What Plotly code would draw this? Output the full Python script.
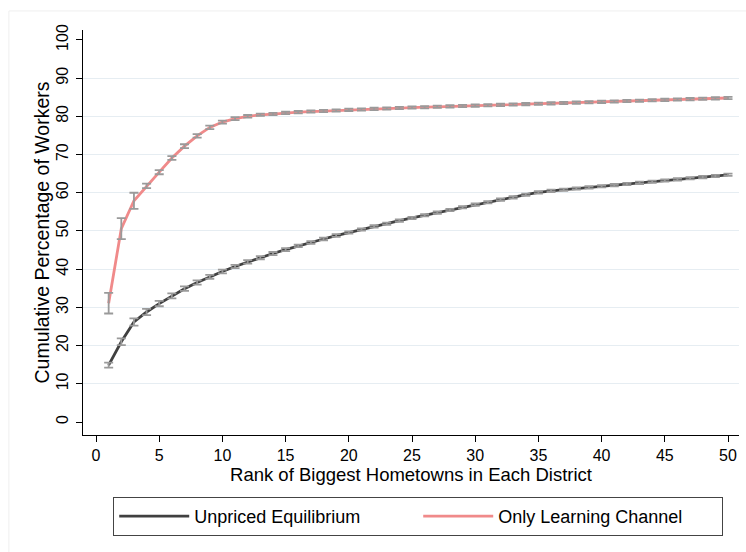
import plotly.graph_objects as go

rank = list(range(1, 51))

unpriced = [14.9, 21.0, 26.2, 28.8, 31.0, 33.0, 34.9, 36.5, 38.0, 39.4,
            40.7, 41.9, 43.0, 44.1, 45.1, 46.1, 47.0, 47.9, 48.8, 49.6,
            50.4, 51.2, 51.9, 52.7, 53.4, 54.1, 54.8, 55.5, 56.2, 56.9,
            57.5, 58.2, 58.8, 59.5, 60.1, 60.5, 60.8, 61.1, 61.4, 61.7,
            62.0, 62.3, 62.6, 62.9, 63.2, 63.5, 63.8, 64.1, 64.4, 64.7]
unpriced_err = [0.65, 0.9, 0.95, 0.8, 0.7, 0.65, 0.6, 0.55, 0.5, 0.5,
                0.45, 0.45, 0.4, 0.4, 0.4, 0.35, 0.35, 0.35, 0.35, 0.3,
                0.3, 0.3, 0.3, 0.3, 0.3, 0.3, 0.3, 0.3, 0.3, 0.3,
                0.3, 0.3, 0.3, 0.3, 0.3, 0.3, 0.3, 0.3, 0.3, 0.3,
                0.3, 0.3, 0.3, 0.3, 0.3, 0.3, 0.3, 0.3, 0.3, 0.3]

learning = [31.1, 50.6, 57.9, 61.8, 65.4, 69.1, 72.2, 74.9, 77.1, 78.5,
            79.4, 80.0, 80.4, 80.6, 80.9, 81.1, 81.25, 81.4, 81.55, 81.7,
            81.8, 81.95, 82.05, 82.2, 82.3, 82.4, 82.5, 82.6, 82.7, 82.8,
            82.9, 83.0, 83.1, 83.2, 83.3, 83.4, 83.5, 83.6, 83.7, 83.8,
            83.9, 84.0, 84.1, 84.2, 84.3, 84.4, 84.5, 84.6, 84.7, 84.8]
learning_err = [2.7, 2.75, 2.1, 0.6, 0.55, 0.5, 0.5, 0.45, 0.45, 0.4,
                0.4, 0.35, 0.3, 0.3, 0.3, 0.3, 0.3, 0.3, 0.3, 0.3,
                0.3, 0.3, 0.3, 0.3, 0.3, 0.3, 0.3, 0.3, 0.3, 0.3,
                0.3, 0.3, 0.3, 0.3, 0.3, 0.3, 0.3, 0.3, 0.3, 0.3,
                0.3, 0.3, 0.3, 0.3, 0.3, 0.3, 0.3, 0.3, 0.3, 0.3]

x_ticks = [0, 5, 10, 15, 20, 25, 30, 35, 40, 45, 50]
y_ticks = [0, 10, 20, 30, 40, 50, 60, 70, 80, 90, 100]
grid_ticks = [10, 20, 30, 40, 50, 60, 70, 80, 90]

FONT = "Liberation Sans, Arial, Helvetica, sans-serif"
GRAY_LINE = "#404040"
RED_LINE = "#F08A8A"
ERR_COLOR = "#9A9A9A"
X_RANGE = [-1.03, 50.87]
Y_RANGE = [-3.4, 102.6]

fig = go.Figure()

fig.add_trace(go.Scatter(x=rank, y=unpriced, mode="lines", name="Unpriced Equilibrium",
                         line=dict(color=GRAY_LINE, width=2.8), yaxis="y"))
fig.add_trace(go.Scatter(x=rank, y=learning, mode="lines", name="Only Learning Channel",
                         line=dict(color=RED_LINE, width=2.8), yaxis="y"))

for vals, errs in [(unpriced, unpriced_err), (learning, learning_err)]:
    fig.add_trace(go.Scatter(
        x=rank, y=vals, mode="markers", showlegend=False, hoverinfo="skip",
        marker=dict(size=1, opacity=0),
        error_y=dict(type="data", array=errs, visible=True, color=ERR_COLOR,
                     thickness=1.8, width=4.5),
        yaxis="y2"))

fig.update_layout(
    width=746, height=552,
    margin=dict(l=83, r=7, t=30, b=117, autoexpand=False),
    paper_bgcolor="white", plot_bgcolor="white",
    font=dict(family=FONT, color="black", size=15),
    xaxis=dict(range=X_RANGE, tickvals=x_ticks, ticks="outside", ticklen=6,
               tickcolor="black", showline=True, linecolor="black", linewidth=1,
               showgrid=False, zeroline=False, tickfont=dict(size=16),
               ticklabelstandoff=0,
               title=dict(text="Rank of Biggest Hometowns in Each District",
                          font=dict(size=18.5), standoff=3)),
    yaxis=dict(range=Y_RANGE, tickvals=grid_ticks, showticklabels=False, ticks="",
               showgrid=True, gridcolor="#E6EDF2", gridwidth=1,
               showline=True, linecolor="black", linewidth=1, zeroline=False,
               title=dict(text="Cumulative Percentage of Workers",
                          font=dict(size=19.5), standoff=27)),
    yaxis2=dict(range=Y_RANGE, overlaying="y", side="left", tickvals=y_ticks,
                ticks="outside", ticklen=6, tickcolor="black", tickangle=-90,
                ticklabelstandoff=2,
                showgrid=False, showline=False, zeroline=False, tickfont=dict(size=16)),
    legend=dict(orientation="h", x=0.511, xanchor="center", y=-0.153, yanchor="top",
                bordercolor="#444444", borderwidth=1, font=dict(size=18),
                itemwidth=70, entrywidth=219, entrywidthmode="pixels", bgcolor="white"),
    shapes=[dict(type="rect", xref="paper", yref="paper",
                 x0=-0.113, x1=1.1, y0=-0.4, y1=1.047,
                 line=dict(color="#EFEFEF", width=1), layer="below")],
)

fig.write_html("out.html")
